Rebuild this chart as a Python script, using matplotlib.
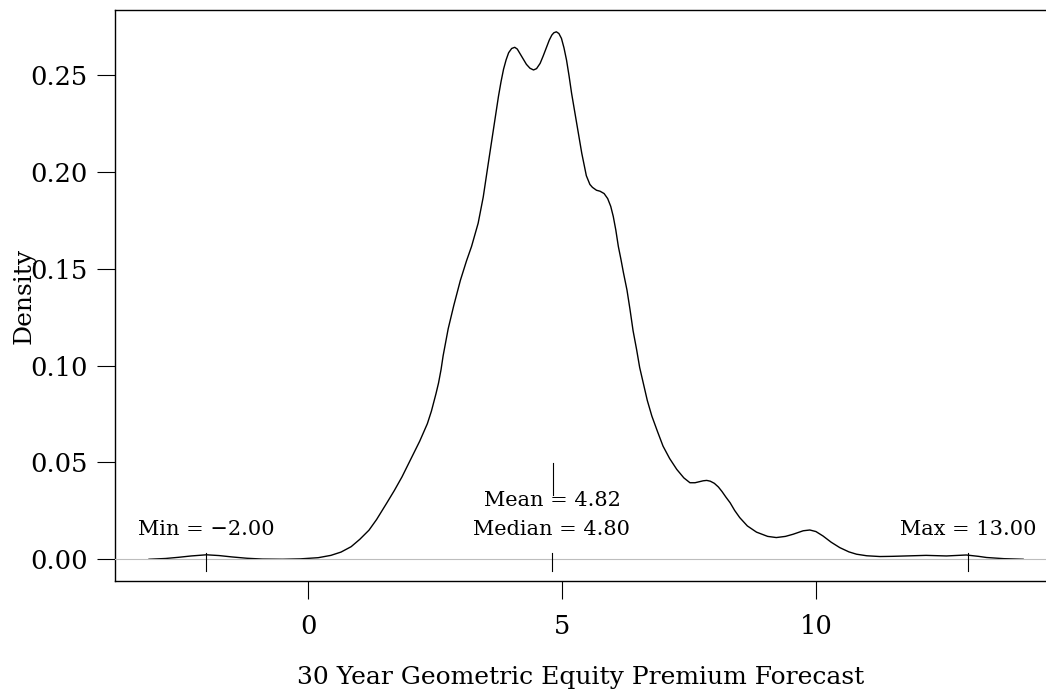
import matplotlib
matplotlib.use("Agg")
import matplotlib.pyplot as plt

# ---- data ----
x_vals = [-3.13, -2.80, -2.55, -2.30, -2.00, -1.75, -1.50, -1.20, -0.90, -0.50,
          -0.15, 0.20, 0.45, 0.65, 0.85, 1.02, 1.20, 1.35, 1.55, 1.70,
          1.85, 2.05, 2.20, 2.35, 2.43, 2.52, 2.57, 2.62, 2.66, 2.71,
          2.76, 2.81, 2.87, 2.94, 3.00, 3.12, 3.22, 3.35, 3.45, 3.55,
          3.65, 3.75, 3.80, 3.85, 3.90, 3.95, 4.01, 4.07, 4.12, 4.17,
          4.23, 4.30, 4.37, 4.44, 4.50, 4.57, 4.63, 4.70, 4.75, 4.80,
          4.84, 4.89, 4.94, 4.99, 5.04, 5.09, 5.14, 5.19, 5.24, 5.29,
          5.34, 5.39, 5.44, 5.48, 5.55, 5.60, 5.68, 5.75, 5.83, 5.90,
          5.96, 6.01, 6.06, 6.11, 6.16, 6.21, 6.28, 6.34, 6.40, 6.47,
          6.53, 6.60, 6.68, 6.77, 6.88, 6.99, 7.12, 7.26, 7.40, 7.52,
          7.62, 7.70, 7.78, 7.85, 7.92, 8.00, 8.08, 8.15, 8.23, 8.31,
          8.40, 8.50, 8.65, 8.83, 9.05, 9.22, 9.40, 9.55, 9.75, 9.88,
          10.00, 10.14, 10.30, 10.47, 10.65, 10.80, 11.00, 11.26, 11.50, 11.78,
          12.17, 12.57, 12.96, 13.20, 13.36, 13.70, 14.08]
density = [0.0000, 0.0004, 0.0010, 0.0017, 0.0023, 0.0019, 0.0012, 0.0005, 0.0001, 0.0000,
           0.0002, 0.0008, 0.0020, 0.0037, 0.0065, 0.0103, 0.0150, 0.0205, 0.0290, 0.0355,
           0.0425, 0.0530, 0.0610, 0.0700, 0.0765, 0.0855, 0.0910, 0.0980, 0.1050, 0.1120,
           0.1190, 0.1245, 0.1310, 0.1380, 0.1440, 0.1540, 0.1615, 0.1735, 0.1870, 0.2045,
           0.2216, 0.2390, 0.2465, 0.2530, 0.2578, 0.2615, 0.2637, 0.2643, 0.2634, 0.2612,
           0.2585, 0.2555, 0.2535, 0.2526, 0.2533, 0.2560, 0.2598, 0.2646, 0.2680, 0.2706,
           0.2718, 0.2723, 0.2714, 0.2689, 0.2640, 0.2577, 0.2495, 0.2405, 0.2328, 0.2250,
           0.2172, 0.2096, 0.2030, 0.1980, 0.1935, 0.1920, 0.1905, 0.1900, 0.1888, 0.1862,
           0.1822, 0.1770, 0.1700, 0.1615, 0.1550, 0.1480, 0.1390, 0.1289, 0.1180, 0.1082,
           0.0990, 0.0910, 0.0820, 0.0739, 0.0660, 0.0584, 0.0520, 0.0464, 0.0420, 0.0395,
           0.0395, 0.0400, 0.0405, 0.0407, 0.0403, 0.0392, 0.0373, 0.0350, 0.0320, 0.0292,
           0.0252, 0.0215, 0.0172, 0.0140, 0.0118, 0.0112, 0.0118, 0.0129, 0.0147, 0.0151,
           0.0143, 0.0120, 0.0088, 0.0060, 0.0038, 0.0026, 0.0018, 0.0014, 0.0015, 0.0017,
           0.0020, 0.0017, 0.0022, 0.0015, 0.0009, 0.0003, 0.0000]

stat_min = -2.00
stat_max = 13.00
stat_mean = 4.82
stat_median = 4.80

x_ticks = [0, 5, 10]
y_ticks = [0.00, 0.05, 0.10, 0.15, 0.20, 0.25]
y_tick_labels = ["0.00", "0.05", "0.10", "0.15", "0.20", "0.25"]
x_label = "30 Year Geometric Equity Premium Forecast"
y_label = "Density"

# ---- figure ----
W, H = 1046, 690
plt.rcParams['font.family'] = ['DejaVu Serif']
fig = plt.figure(figsize=(W / 100, H / 100), dpi=100)
ax = fig.add_axes([115 / W, (H - 581) / H, (W - 115) / W, (581 - 10) / H])

ax.plot(x_vals, density, color='black', lw=1.0, zorder=2,
        solid_joinstyle='round', antialiased=True)
ax.axhline(0, color='#bdbdbd', lw=0.8, zorder=3)

# marker ticks
mk_lo, mk_hi = -0.0060, 0.0032
for v in (stat_min, stat_median, stat_max):
    ax.plot([v, v], [mk_lo, mk_hi], color='black', lw=0.8, zorder=4)
ax.plot([stat_mean, stat_mean], [0.0330, 0.0497], color='black', lw=0.8, zorder=4)

ann_fs = 15
ax.text(stat_min, 0.0125, f"Min = \u2212{abs(stat_min):.2f}", ha='center', va='baseline', fontsize=ann_fs)
ax.text(stat_median, 0.0125, f"Median = {stat_median:.2f}", ha='center', va='baseline', fontsize=ann_fs)
ax.text(stat_mean, 0.0275, f"Mean = {stat_mean:.2f}", ha='center', va='baseline', fontsize=ann_fs)
ax.text(stat_max, 0.0125, f"Max = {stat_max:.2f}", ha='center', va='baseline', fontsize=ann_fs)

ax.set_xlim(-3.80, 14.53)
ax.set_ylim(-0.01123, 0.28356)
ax.set_xticks(x_ticks)
ax.set_xticklabels([str(t) for t in x_ticks])
ax.set_yticks(y_ticks)
ax.set_yticklabels(y_tick_labels)

for s in ('left', 'bottom', 'top'):
    ax.spines[s].set_linewidth(1.0)
ax.spines['right'].set_visible(False)

ax.tick_params(axis='x', length=13, width=0.8, pad=11, labelsize=18.5)
ax.tick_params(axis='y', length=13, width=0.8, pad=6.5, labelsize=18.5)

fig.text(580.5 / W, 6 / H, x_label, ha='center', va='baseline', fontsize=18)
fig.text(24 / W, (H - 295.5) / H, y_label, ha='center', va='center', rotation=90, fontsize=18)

fig.savefig("out.png", dpi=100)
